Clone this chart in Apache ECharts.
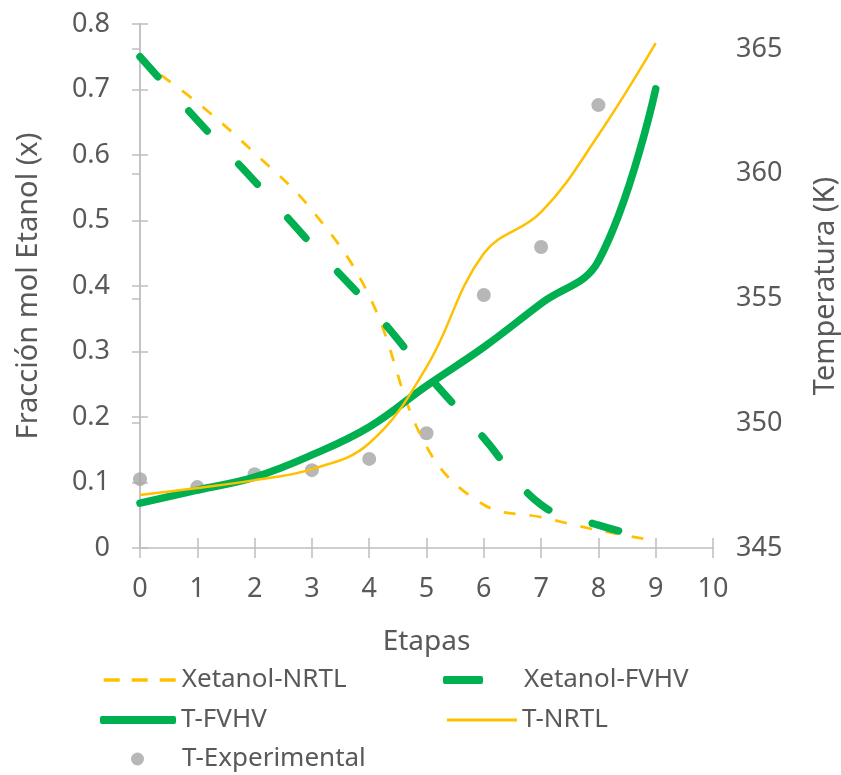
<!DOCTYPE html>
<html><head><meta charset="utf-8">
<script src="https://cdn.jsdelivr.net/npm/echarts@6/dist/echarts.min.js"></script>
<style>html,body{margin:0;padding:0;background:#fff}#c{width:841px;height:775px}</style>
</head><body><div id="c"></div>
<script>
const stages = [0, 1, 2, 3, 4, 5, 6, 7, 8, 9];
const expStages = [0, 1, 2, 3, 4, 5, 6, 7, 8];
const xNRTL = [0.745, 0.68, 0.603, 0.516, 0.385, 0.155, 0.066, 0.047, 0.027, 0.011];
const xFVHV = [0.75, 0.653, 0.56, 0.463, 0.37, 0.266, 0.168, 0.066, 0.035, 0.012];
const tFVHV = [346.8, 347.32, 347.84, 348.73, 349.85, 351.5, 353.05, 354.8, 356.5, 363.4];
const tNRTL = [347.12, 347.4, 347.72, 348.16, 349.2, 352.25, 356.8, 358.46, 361.55, 365.23];
const tExp = [347.76, 347.44, 347.96, 348.12, 348.57, 349.6, 355.14, 357.06, 362.75];

const pair = (xs, ys) => xs.map((x, i) => [x, ys[i]]);
const txt = '#595959', axc = '#BFBFBF', FONT = 'Noto Sans';
const green = '#00B050', orange = '#FFC000', gray = '#A5A5A5';
const FS = 27, TS = 29;

const chart = echarts.init(document.getElementById('c'));
const legendBase = (name, left, top, w, h, icon, extraText, extra) => Object.assign({
  data: [icon ? {name: name, icon: icon} : name], left: left, top: top, itemWidth: w, itemHeight: h, padding: 0,
  selectedMode: false,
  textStyle: Object.assign({color: txt, fontSize: 26, fontFamily: FONT}, extraText || {})
}, extra || {});

chart.setOption({
  animation: false,
  textStyle: {fontFamily: FONT},
  grid: {left: 140, right: 128, top: 24, bottom: 227, outerBoundsMode: 'none', containLabel: false},
  xAxis: [{
    type: 'value', min: 0, max: 10, interval: 1,
    name: 'Etapas', nameLocation: 'middle', nameGap: 80,
    nameTextStyle: {color: txt, fontSize: TS - 1, fontFamily: FONT},
    axisLine: {lineStyle: {color: axc, width: 1.5}},
    axisTick: {show: true, length: 10, lineStyle: {color: axc, width: 1.5}},
    axisLabel: {color: txt, fontSize: FS, margin: 28},
    splitLine: {show: false}
  }, {
    type: 'value', min: 0, max: 10, interval: 1, position: 'bottom',
    axisLine: {show: false}, axisLabel: {show: false}, splitLine: {show: false},
    axisTick: {show: true, inside: true, length: 10, lineStyle: {color: axc, width: 1.5}}
  }],
  yAxis: [{
    type: 'value', min: 0, max: 0.8, interval: 0.1, position: 'left',
    name: 'Fracción mol Etanol (x)', nameLocation: 'middle', nameGap: 97,
    nameTextStyle: {color: txt, fontSize: TS, fontFamily: FONT},
    axisLine: {show: true, lineStyle: {color: axc, width: 1.5}},
    axisTick: {show: true, length: 8, lineStyle: {color: axc, width: 1.5}},
    axisLabel: {color: txt, fontSize: FS, margin: 30},
    splitLine: {show: false}
  }, {
    type: 'value', min: 345, max: 366, interval: 5, position: 'right',
    name: 'Temperatura (K)', nameLocation: 'middle', nameGap: 98,
    nameTextStyle: {color: txt, fontSize: TS, fontFamily: FONT},
    axisLine: {show: true, lineStyle: {color: axc, width: 1.5}},
    axisTick: {show: true, inside: true, length: 8, lineStyle: {color: axc, width: 1.5}},
    axisLabel: {color: txt, fontSize: FS, margin: 23, showMaxLabel: false},
    splitLine: {show: false}
  }, {
    type: 'value', min: 0, max: 0.8, interval: 0.1, position: 'left',
    axisLine: {show: false}, axisLabel: {show: false}, splitLine: {show: false},
    axisTick: {show: true, inside: true, length: 8, lineStyle: {color: axc, width: 1.5}}
  }],
  legend: [
    legendBase('Xetanol-NRTL', 102, 667, 73, 14, null, null,
      {itemStyle: {opacity: 0}, lineStyle: {width: 3.5, type: [16, 12], color: orange, opacity: 1}}),
    legendBase('Xetanol-FVHV', 443, 667, 40, 8, 'roundRect', {padding: [0, 0, 0, 36]}),
    legendBase('T-FVHV', 100, 707, 76, 8, 'roundRect'),
    legendBase('T-NRTL', 447, 707, 70, 3, 'rect'),
    legendBase('T-Experimental', 131, 746, 13, 13, 'circle', {padding: [0, 0, 0, 33]})
  ],
  series: [{
    name: 'Xetanol-NRTL', type: 'line', xAxisIndex: 0, yAxisIndex: 0, smooth: 0.4,
    data: pair(stages, xNRTL), symbol: 'none',
    lineStyle: {color: orange, width: 2.75, type: [12, 14]}, itemStyle: {color: orange}
  }, {
    name: 'Xetanol-FVHV', type: 'line', xAxisIndex: 0, yAxisIndex: 0, smooth: 0.4,
    data: pair(stages, xFVHV), symbol: 'none',
    lineStyle: {color: green, width: 7.5, type: [27, 46], cap: 'round'}, itemStyle: {color: green}
  }, {
    name: 'T-FVHV', type: 'line', xAxisIndex: 0, yAxisIndex: 1, smooth: 0.4,
    data: pair(stages, tFVHV), symbol: 'none',
    lineStyle: {color: green, width: 7.5, cap: 'round'}, itemStyle: {color: green}
  }, {
    name: 'T-NRTL', type: 'line', xAxisIndex: 0, yAxisIndex: 1, smooth: 0.4,
    data: pair(stages, tNRTL), symbol: 'none',
    lineStyle: {color: orange, width: 2.5}, itemStyle: {color: orange}
  }, {
    name: 'T-Experimental', type: 'scatter', xAxisIndex: 0, yAxisIndex: 1,
    data: pair(expStages, tExp), symbol: 'circle', symbolSize: 14,
    itemStyle: {color: gray}
  }]
});
</script></body></html>
